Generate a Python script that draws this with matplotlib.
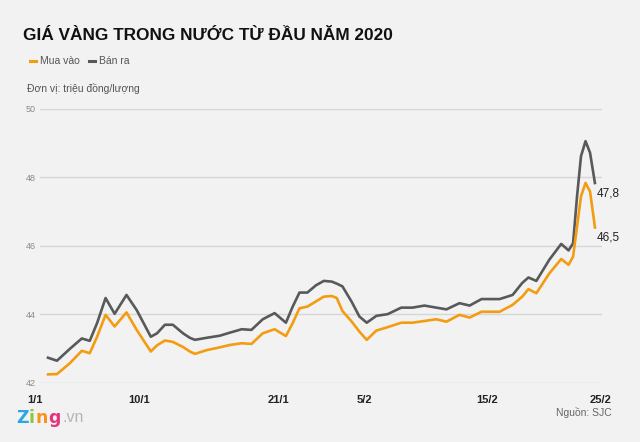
import matplotlib.pyplot as plt

# positions along the time axis (0 = 1/1, 100 = 25/2)
x = [2.1, 3.9, 6.2, 8.3, 9.7, 11.0, 12.5, 14.1, 16.2, 18.0, 20.5, 21.6,
     23.0, 24.4, 26.2, 27.4, 28.3, 30.4, 32.7, 34.5, 36.6, 38.3, 40.3, 42.4,
     44.4, 45.6, 46.8, 48.2, 49.7, 51.1, 52.5, 53.4, 54.4, 56.0, 57.4, 58.7,
     60.4, 62.4, 64.8, 66.8, 68.9, 71.0, 72.8, 75.1, 76.9, 79.0, 82.2, 84.5,
     86.2, 87.3, 88.7, 91.0, 93.1, 94.4, 95.2, 95.9, 96.6, 97.4, 98.2, 99.1]

ban_ra = [42.75, 42.65, 43.0, 43.3, 43.23, 43.75, 44.48, 44.02, 44.57, 44.13,
          43.35, 43.45, 43.7, 43.7, 43.45, 43.32, 43.26, 43.32, 43.38, 43.47,
          43.57, 43.55, 43.86, 44.04, 43.76, 44.23, 44.64, 44.64, 44.85, 44.98,
          44.96, 44.9, 44.82, 44.38, 43.94, 43.76, 43.96, 44.01, 44.2, 44.2,
          44.26, 44.2, 44.15, 44.33, 44.26, 44.45, 44.45, 44.57, 44.92, 45.08,
          44.98, 45.6, 46.06, 45.87, 46.08, 47.45, 48.62, 49.06, 48.72, 47.8]

mua_vao = [42.25, 42.26, 42.58, 42.94, 42.87, 43.35, 43.99, 43.65, 44.06, 43.55,
           42.92, 43.1, 43.24, 43.2, 43.05, 42.92, 42.85, 42.96, 43.04, 43.11,
           43.16, 43.14, 43.45, 43.57, 43.37, 43.75, 44.18, 44.23, 44.38, 44.52,
           44.54, 44.48, 44.1, 43.8, 43.5, 43.26, 43.53, 43.63, 43.76, 43.76,
           43.81, 43.86, 43.79, 43.99, 43.91, 44.08, 44.08, 44.28, 44.52, 44.74,
           44.62, 45.2, 45.62, 45.45, 45.69, 46.57, 47.45, 47.84, 47.59, 46.5]

tick_pos = [0, 18.5, 43.1, 58.2, 80.0, 100]
tick_labels = ['1/1', '10/1', '21/1', '5/2', '15/2', '25/2']
y_ticks = [42, 44, 46, 48, 50]

bg = '#f2f2f2'
orange = '#f39c12'
gray = '#58595b'

plt.rcParams['font.family'] = ['Liberation Sans', 'DejaVu Sans']

fig = plt.figure(figsize=(6.4, 4.42), dpi=100, facecolor=bg)
ax = fig.add_axes([0.0625, 0.1335, 0.878, 0.62], facecolor=bg)

ax.plot(x, ban_ra, color=gray, lw=1.9, solid_joinstyle='round', solid_capstyle='butt', zorder=3)
ax.plot(x, mua_vao, color=orange, lw=1.9, solid_joinstyle='round', solid_capstyle='butt', zorder=3)

ax.set_xlim(0.9, 100.3)
ax.set_ylim(42, 50)
ax.set_yticks(y_ticks)
ax.set_yticklabels([str(v) for v in y_ticks], fontsize=6.5, color='#8a8a8a')
ax.tick_params(axis='y', length=0, pad=3)
ax.set_xticks([])
ax.grid(axis='y', color='#d6d6d6', lw=1)
ax.set_axisbelow(True)
for s in ax.spines.values():
    s.set_visible(False)

# x labels drawn as text so the first one can sit left of the axes
for p, lab in zip(tick_pos, tick_labels):
    ax.text(p, -0.045, lab, transform=ax.get_xaxis_transform(), ha='center', va='top',
            fontsize=8, fontweight='bold', color='#222222', clip_on=False)

# end labels
ax.text(x[-1] + 0.3, ban_ra[-1] - 0.08, '47,8', ha='left', va='top', fontsize=8.5, color='#222222')
ax.text(x[-1] + 0.3, mua_vao[-1] - 0.08, '46,5', ha='left', va='top', fontsize=8.5, color='#222222')

# title, legend, unit
fig.text(23 / 640, 1 - 40 / 442, 'GIÁ VÀNG TRONG NƯỚC TỪ ĐẦU NĂM 2020', fontsize=12.4,
         fontweight='bold', color='#111111', va='baseline')
fig.lines.append(plt.Line2D([30 / 640, 36 / 640], [1 - 61 / 442] * 2, color=orange, lw=2.2,
                            transform=fig.transFigure))
fig.text(40 / 640, 1 - 61 / 442, 'Mua vào', fontsize=7.5, color='#555555', va='center')
fig.lines.append(plt.Line2D([89 / 640, 95 / 640], [1 - 61 / 442] * 2, color=gray, lw=2.2,
                            transform=fig.transFigure))
fig.text(99 / 640, 1 - 61 / 442, 'Bán ra', fontsize=7.5, color='#555555', va='center')
fig.text(27 / 640, 1 - 88 / 442, 'Đơn vị: triệu đồng/lượng', fontsize=7.5, color='#555555', va='center')

# source
fig.text(612 / 640, 1 - 413 / 442, 'Nguồn: SJC', fontsize=7.5, color='#666666', ha='right', va='center')

# Zing.vn logo
logo_y = 1 - 418 / 442
letters = [('Z', '#2aa6e0', 16 / 640), ('i', '#8cc63f', 29 / 640), ('n', '#f7941d', 35.5 / 640),
           ('g', '#e5337e', 48.5 / 640)]
for ch, c, lx in letters:
    fig.text(lx, logo_y, ch, fontsize=12.5, fontweight='bold', color=c, va='center',
             family='DejaVu Sans')
fig.text(62 / 640, logo_y, '.vn', fontsize=11.5, color='#b5b5b5', va='center')

fig.savefig('out.png', dpi=100, facecolor=bg)
